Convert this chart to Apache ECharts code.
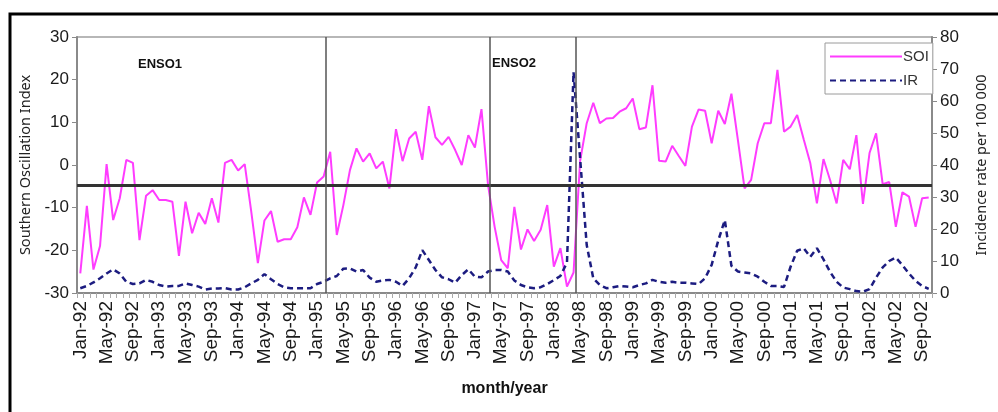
<!DOCTYPE html>
<html><head><meta charset="utf-8">
<script src="https://cdn.jsdelivr.net/npm/echarts@6/dist/echarts.min.js"></script>
<style>html,body{margin:0;padding:0;background:#fff}#c{width:998px;height:412px}</style>
</head><body><div id="c"></div>
<script>
// ---- data ----
const monthNames = ['Jan','Feb','Mar','Apr','May','Jun','Jul','Aug','Sep','Oct','Nov','Dec'];
const startYear = 1992;
const monthCount = 130; // Jan-92 .. Oct-02
const categories = [];
for (let i = 0; i < monthCount; i++) {
  const y = (startYear + Math.floor(i / 12)) % 100;
  categories.push(monthNames[i % 12] + '-' + String(y).padStart(2, '0'));
}
// Southern Oscillation Index (left axis)
const soi = [
  -25.4, -9.6, -24.5, -19.0, 0.2, -12.9, -7.8, 1.2, 0.5, -17.6, -7.2, -5.9,
  -8.2, -8.2, -8.6, -21.3, -8.6, -16.0, -11.2, -13.8, -7.8, -13.5, 0.5, 1.2,
  -1.3, 0.2, -11.0, -23.0, -13.0, -10.8, -18.0, -17.4, -17.4, -14.6, -7.6, -11.7,
  -4.1, -2.7, 3.1, -16.4, -9.4, -1.2, 3.9, 0.8, 2.7, -0.8, 0.8, -5.5,
  8.4, 0.9, 6.2, 7.8, 1.2, 13.8, 6.5, 4.7, 6.6, 3.5, 0.0, 7.0,
  4.1, 13.1, -4.7, -14.5, -22.3, -24.2, -9.8, -19.8, -15.1, -17.8, -15.2, -9.4,
  -23.8, -19.5, -28.5, -25.2, 1.0, 9.8, 14.6, 9.8, 10.9, 11.0, 12.5, 13.3,
  15.6, 8.4, 8.8, 18.7, 1.0, 0.8, 4.5, 2.1, -0.2, 9.0, 13.0, 12.7,
  5.1, 12.7, 9.6, 16.7, 5.7, -5.5, -3.5, 5.1, 9.8, 9.8, 22.3, 7.8,
  9.0, 11.7, 6.0, 0.4, -9.0, 1.4, -3.5, -9.0, 1.2, -1.0, 7.0, -9.1,
  2.8, 7.4, -4.5, -4.0, -14.5, -6.4, -7.4, -14.5, -7.8, -7.6
];
// Incidence rate per 100 000 (right axis)
const ir = [
  1.5, 2.2, 3.3, 4.6, 6.1, 7.4, 6.1, 3.5, 2.8, 3.0, 4.1, 3.5,
  2.5, 2.0, 2.2, 2.2, 3.0, 2.5, 2.0, 1.1, 1.4, 1.4, 1.5, 1.1,
  1.1, 1.8, 3.0, 4.1, 5.9, 4.3, 2.8, 1.8, 1.5, 1.5, 1.5, 1.5,
  2.8, 3.5, 4.6, 5.3, 7.6, 7.7, 6.7, 7.2, 4.8, 3.5, 3.9, 4.1,
  3.5, 2.2, 4.6, 8.0, 13.4, 10.3, 7.2, 4.9, 4.3, 3.2, 5.6, 7.4,
  5.1, 4.9, 6.7, 7.2, 7.2, 6.7, 3.9, 2.5, 1.8, 1.5, 1.8, 2.8,
  4.0, 5.3, 9.5, 69.0, 42.0, 15.0, 4.6, 2.5, 1.5, 1.8, 2.2, 2.0,
  1.8, 2.5, 3.0, 4.1, 3.5, 3.2, 3.5, 3.2, 3.2, 3.0, 2.8, 4.6,
  8.8, 16.4, 22.8, 8.5, 6.7, 6.4, 6.1, 5.1, 3.5, 2.2, 2.2, 1.9,
  8.2, 13.2, 14.0, 11.3, 14.0, 10.5, 6.6, 3.5, 1.7, 1.2, 0.6, 0.4,
  1.2, 4.8, 8.0, 10.0, 11.1, 8.7, 6.1, 3.8, 2.2, 1.3
];
const ensoBoundaries = [37.25, 62.2, 75.4]; // month-index positions of event boundaries
const soiReference = -4.7;
const ensoLabels = ['ENSO1', 'ENSO2'];
const leftAxis = {min: -30, max: 30, interval: 10};
const rightAxis = {min: 0, max: 80, interval: 10};

// ---- chart ----
const chart = echarts.init(document.getElementById('c'), null, {renderer: 'canvas'});
const tickFont = 'Liberation Sans, Arial, sans-serif';
const option = {
  animation: false,
  backgroundColor: '#fff',
  grid: {left: 77, right: 66, top: 37, bottom: 119, show: true, borderColor: '#a0a0a0', borderWidth: 1.5},
  legend: {
    orient: 'vertical', left: 825, top: 43,
    padding: [6, 4, 6, 4], itemGap: 9,
    itemWidth: 72, itemHeight: 14,
    borderColor: '#9a9a9a', borderWidth: 1, backgroundColor: '#fff',
    itemStyle: {opacity: 0},
    textStyle: {fontFamily: 'Liberation Sans Narrow, Arial Narrow, Liberation Sans, sans-serif', fontSize: 15, color: '#333', padding: [0, 0, 0, -4]},
    data: ['SOI', 'IR']
  },
  graphic: [
    {type: 'rect', shape: {x: 10, y: 14, width: 1000, height: 420}, style: {fill: 'none', stroke: '#000', lineWidth: 3}, silent: true, z: 100},
    {type: 'text', left: 138, top: 58, style: {text: ensoLabels[0], font: 'bold 13px Liberation Sans, Arial, sans-serif', fill: '#111'}},
    {type: 'text', left: 492, top: 57, style: {text: ensoLabels[1], font: 'bold 13px Liberation Sans, Arial, sans-serif', fill: '#111'}}
  ],
  xAxis: [{
    type: 'category', data: categories, boundaryGap: true,
    name: 'month/year', nameLocation: 'middle', nameGap: 88,
    nameTextStyle: {fontFamily: tickFont, fontWeight: 'bold', fontSize: 16, color: '#111'},
    axisLine: {onZero: false, lineStyle: {color: '#8a8a8a', width: 2}},
    axisTick: {show: true, interval: 0, length: 5, lineStyle: {color: '#aaa'}},
    axisLabel: {interval: 3, rotate: 90, fontFamily: tickFont, fontSize: 19, color: '#1a1a1a', margin: 8},
    splitLine: {show: false}
  }, {
    type: 'value', min: -0.5, max: monthCount - 0.5, show: false
  }],
  yAxis: [{
    type: 'value', min: leftAxis.min, max: leftAxis.max, interval: leftAxis.interval,
    name: 'Southern Oscillation Index', nameLocation: 'middle', nameGap: 38, nameRotate: 90,
    nameTextStyle: {fontFamily: 'Noto Sans, sans-serif', fontSize: 14.5, color: '#222'},
    axisLine: {show: true, onZero: false, lineStyle: {color: '#8a8a8a', width: 2}},
    axisTick: {show: true, length: 5, lineStyle: {color: '#8a8a8a'}},
    axisLabel: {fontFamily: tickFont, fontSize: 17, color: '#1a1a1a', margin: 8},
    splitLine: {show: false}
  }, {
    type: 'value', min: rightAxis.min, max: rightAxis.max, interval: rightAxis.interval, position: 'right',
    name: 'Incidence rate per 100 000', nameLocation: 'middle', nameGap: 42, nameRotate: 90,
    nameTextStyle: {fontFamily: 'Noto Sans, sans-serif', fontSize: 14.5, color: '#222'},
    axisLine: {show: true, onZero: false, lineStyle: {color: '#8a8a8a', width: 2}},
    axisTick: {show: true, length: 5, lineStyle: {color: '#8a8a8a'}},
    axisLabel: {fontFamily: tickFont, fontSize: 17, color: '#1a1a1a', margin: 8},
    splitLine: {show: false}
  }],
  series: [{
    name: 'SOI', type: 'line', data: soi, xAxisIndex: 0, yAxisIndex: 0,
    symbol: 'none', lineStyle: {color: '#ff3cff', width: 2}, itemStyle: {color: '#ff3cff'}, z: 3,
    markLine: {
      silent: true, symbol: 'none', label: {show: false},
      lineStyle: {color: '#333', width: 3, type: 'solid'},
      data: [{yAxis: soiReference}]
    }
  }, {
    name: 'IR', type: 'line', data: ir, xAxisIndex: 0, yAxisIndex: 1,
    symbol: 'none', lineStyle: {color: '#1c1c80', width: 2.5, type: [6, 4]}, itemStyle: {color: '#1c1c80'}, z: 4
  }, {
    name: 'boundaries', type: 'line', data: [], xAxisIndex: 1, yAxisIndex: 0,
    markLine: {
      silent: true, symbol: 'none', label: {show: false},
      lineStyle: {color: '#555', width: 1.5, type: 'solid'},
      data: ensoBoundaries.map(v => ({xAxis: v}))
    }
  }]
};
chart.setOption(option);
</script></body></html>
